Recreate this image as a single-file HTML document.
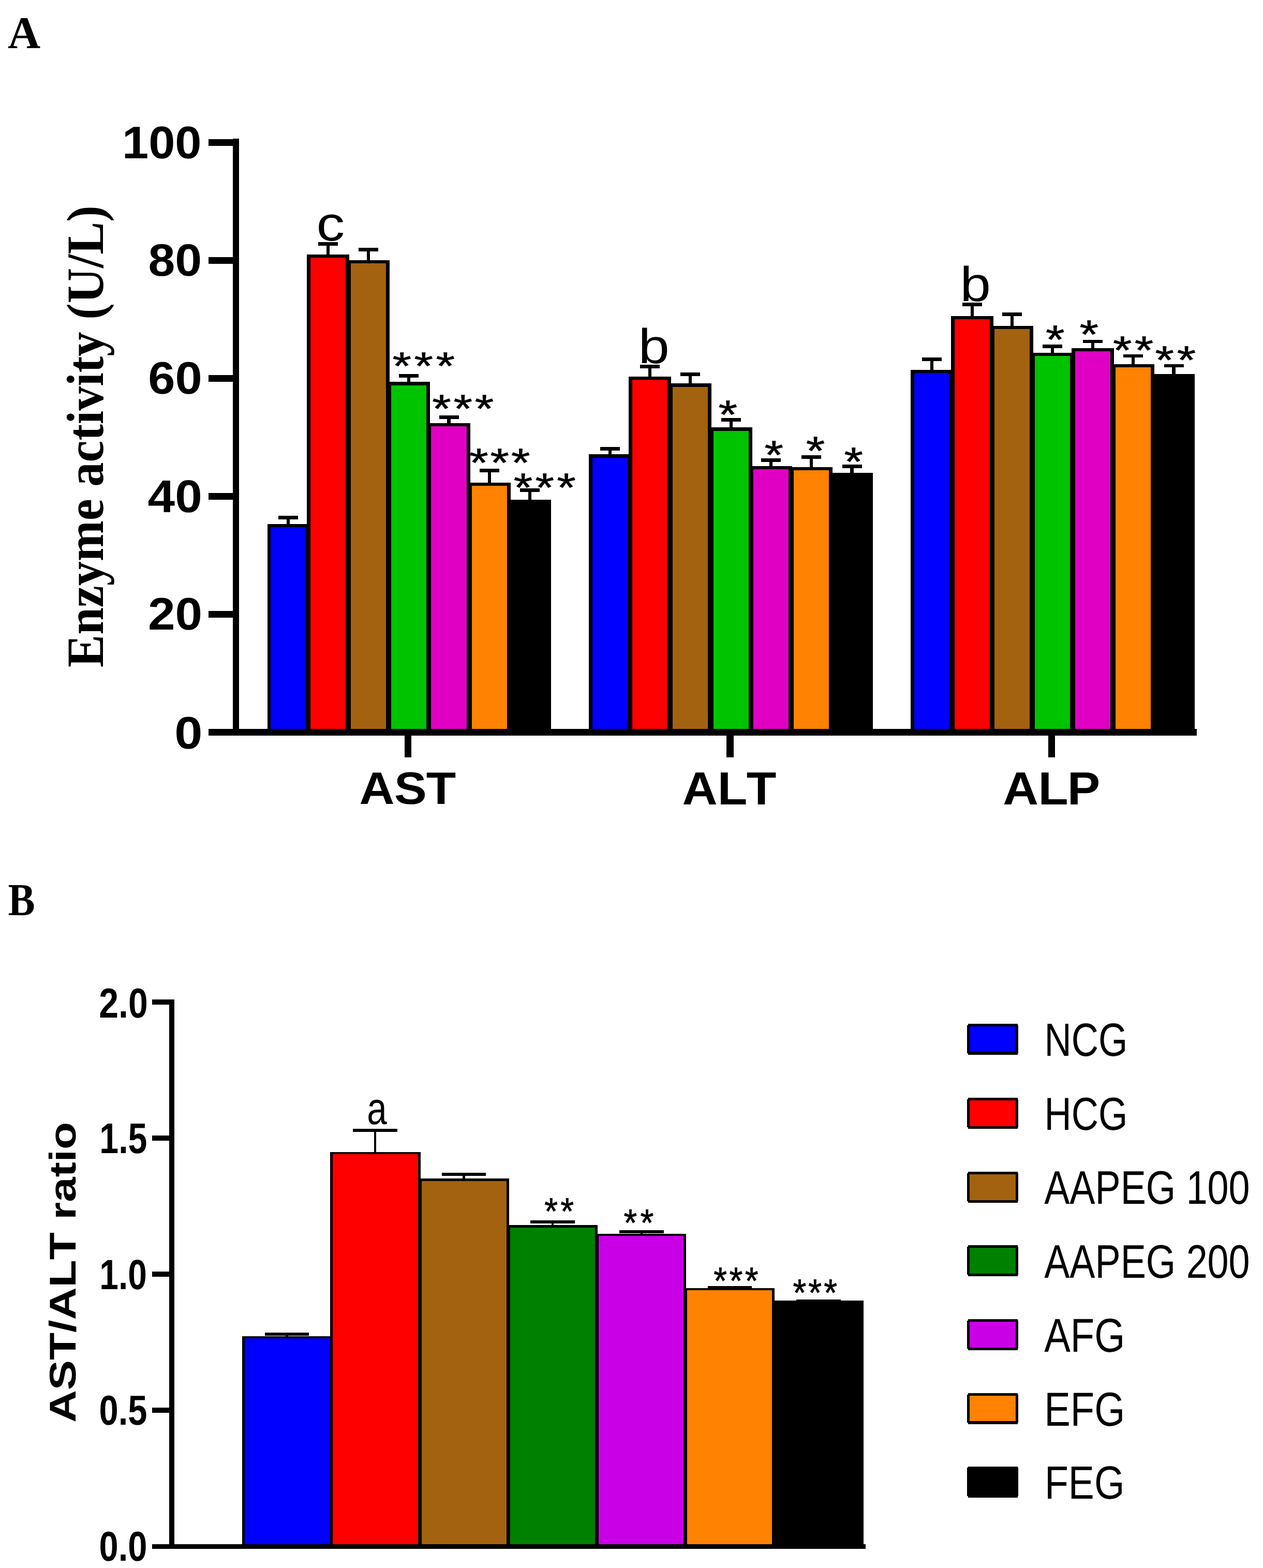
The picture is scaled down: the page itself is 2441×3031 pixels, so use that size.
<!DOCTYPE html>
<html><head><meta charset="utf-8"><title>Enzyme activity chart</title>
<style>html,body{margin:0;padding:0;background:#fff;}svg{display:block;}text{text-rendering:geometricPrecision;}</style></head>
<body>
<svg width="2441" height="3031" viewBox="0 0 2441 3031" shape-rendering="crispEdges">
<rect width="2441" height="3031" fill="#fff"/>
<rect x="449.50" y="268.00" width="12.00" height="1154.00" fill="#000"/>
<rect x="403.00" y="269.00" width="58.50" height="13.00" fill="#000"/>
<rect x="403.00" y="497.00" width="58.50" height="13.00" fill="#000"/>
<rect x="403.00" y="725.00" width="58.50" height="13.00" fill="#000"/>
<rect x="403.00" y="953.00" width="58.50" height="13.00" fill="#000"/>
<rect x="403.00" y="1181.00" width="58.50" height="13.00" fill="#000"/>
<rect x="403.00" y="1409.25" width="1910.00" height="12.75" fill="#000"/>
<rect x="782.00" y="1422.00" width="13.00" height="42.00" fill="#000"/>
<rect x="1404.00" y="1422.00" width="14.00" height="42.00" fill="#000"/>
<rect x="2026.00" y="1422.00" width="13.00" height="42.00" fill="#000"/>
<rect x="538.00" y="997.00" width="38.00" height="6.75" fill="#000"/>
<rect x="553.75" y="997.00" width="6.50" height="16.50" fill="#000"/>
<rect x="516.50" y="1012.50" width="81.00" height="397.50" fill="#000"/>
<rect x="614.88" y="468.00" width="38.00" height="6.75" fill="#000"/>
<rect x="630.62" y="468.00" width="6.50" height="25.00" fill="#000"/>
<rect x="593.25" y="492.00" width="81.25" height="918.00" fill="#000"/>
<rect x="692.88" y="479.00" width="38.00" height="6.75" fill="#000"/>
<rect x="708.62" y="479.00" width="6.50" height="25.00" fill="#000"/>
<rect x="671.25" y="503.00" width="81.25" height="907.00" fill="#000"/>
<rect x="770.88" y="723.25" width="38.00" height="6.75" fill="#000"/>
<rect x="786.62" y="723.25" width="6.50" height="16.00" fill="#000"/>
<rect x="749.25" y="738.25" width="81.25" height="671.75" fill="#000"/>
<rect x="848.62" y="803.00" width="38.00" height="6.75" fill="#000"/>
<rect x="864.38" y="803.00" width="6.50" height="15.50" fill="#000"/>
<rect x="826.50" y="817.50" width="82.25" height="592.50" fill="#000"/>
<rect x="927.00" y="906.25" width="38.00" height="6.75" fill="#000"/>
<rect x="942.75" y="906.25" width="6.50" height="27.25" fill="#000"/>
<rect x="905.25" y="932.50" width="81.50" height="477.50" fill="#000"/>
<rect x="1005.00" y="944.00" width="38.00" height="6.75" fill="#000"/>
<rect x="1020.75" y="944.00" width="6.50" height="23.25" fill="#000"/>
<rect x="983.25" y="966.25" width="81.50" height="443.75" fill="#000"/>
<rect x="1160.00" y="864.25" width="38.00" height="6.75" fill="#000"/>
<rect x="1175.75" y="864.25" width="6.50" height="15.00" fill="#000"/>
<rect x="1138.25" y="878.25" width="81.50" height="531.75" fill="#000"/>
<rect x="1237.00" y="705.00" width="38.00" height="6.75" fill="#000"/>
<rect x="1252.75" y="705.00" width="6.50" height="23.50" fill="#000"/>
<rect x="1215.25" y="727.50" width="81.50" height="682.50" fill="#000"/>
<rect x="1315.00" y="720.00" width="38.00" height="6.75" fill="#000"/>
<rect x="1330.75" y="720.00" width="6.50" height="22.25" fill="#000"/>
<rect x="1293.25" y="741.25" width="81.50" height="668.75" fill="#000"/>
<rect x="1394.00" y="808.00" width="38.00" height="6.75" fill="#000"/>
<rect x="1409.75" y="808.00" width="6.50" height="19.25" fill="#000"/>
<rect x="1372.25" y="826.25" width="81.50" height="583.75" fill="#000"/>
<rect x="1471.12" y="886.00" width="38.00" height="6.75" fill="#000"/>
<rect x="1486.88" y="886.00" width="6.50" height="15.50" fill="#000"/>
<rect x="1449.50" y="900.50" width="81.25" height="509.50" fill="#000"/>
<rect x="1549.00" y="880.00" width="38.00" height="6.75" fill="#000"/>
<rect x="1564.75" y="880.00" width="6.50" height="23.50" fill="#000"/>
<rect x="1527.25" y="902.50" width="81.50" height="507.50" fill="#000"/>
<rect x="1627.50" y="898.25" width="38.00" height="6.75" fill="#000"/>
<rect x="1643.25" y="898.25" width="6.50" height="16.75" fill="#000"/>
<rect x="1605.75" y="914.00" width="81.50" height="496.00" fill="#000"/>
<rect x="1782.12" y="691.25" width="38.00" height="6.75" fill="#000"/>
<rect x="1797.88" y="691.25" width="6.50" height="24.75" fill="#000"/>
<rect x="1760.25" y="715.00" width="81.75" height="695.00" fill="#000"/>
<rect x="1860.00" y="585.00" width="38.00" height="6.75" fill="#000"/>
<rect x="1875.75" y="585.00" width="6.50" height="26.50" fill="#000"/>
<rect x="1838.25" y="610.50" width="81.50" height="799.50" fill="#000"/>
<rect x="1937.12" y="604.00" width="38.00" height="6.75" fill="#000"/>
<rect x="1952.88" y="604.00" width="6.50" height="26.50" fill="#000"/>
<rect x="1915.50" y="629.50" width="81.25" height="780.50" fill="#000"/>
<rect x="2015.12" y="666.00" width="38.00" height="6.75" fill="#000"/>
<rect x="2030.88" y="666.00" width="6.50" height="16.50" fill="#000"/>
<rect x="1993.50" y="681.50" width="81.25" height="728.50" fill="#000"/>
<rect x="2093.00" y="656.50" width="38.00" height="6.75" fill="#000"/>
<rect x="2108.75" y="656.50" width="6.50" height="17.00" fill="#000"/>
<rect x="2071.25" y="672.50" width="81.50" height="737.50" fill="#000"/>
<rect x="2171.00" y="684.50" width="38.00" height="6.75" fill="#000"/>
<rect x="2186.75" y="684.50" width="6.50" height="20.00" fill="#000"/>
<rect x="2149.25" y="703.50" width="81.50" height="706.50" fill="#000"/>
<rect x="2249.50" y="703.50" width="38.00" height="6.75" fill="#000"/>
<rect x="2265.25" y="703.50" width="6.50" height="20.75" fill="#000"/>
<rect x="2227.75" y="723.25" width="81.50" height="686.75" fill="#000"/>
<rect x="523.25" y="1018.75" width="67.50" height="390.50" fill="#0000ff"/>
<rect x="600.00" y="498.25" width="67.75" height="911.00" fill="#ff0000"/>
<rect x="678.00" y="509.25" width="67.75" height="900.00" fill="#a3620f"/>
<rect x="756.00" y="744.50" width="67.75" height="664.75" fill="#00c300"/>
<rect x="833.25" y="823.75" width="68.75" height="585.50" fill="#e000c4"/>
<rect x="912.00" y="938.75" width="68.00" height="470.50" fill="#ff8200"/>
<rect x="1145.00" y="884.50" width="68.00" height="524.75" fill="#0000ff"/>
<rect x="1222.00" y="733.75" width="68.00" height="675.50" fill="#ff0000"/>
<rect x="1300.00" y="747.50" width="68.00" height="661.75" fill="#a3620f"/>
<rect x="1379.00" y="832.50" width="68.00" height="576.75" fill="#00c300"/>
<rect x="1456.25" y="906.75" width="67.75" height="502.50" fill="#e000c4"/>
<rect x="1534.00" y="908.75" width="68.00" height="500.50" fill="#ff8200"/>
<rect x="1767.00" y="721.25" width="68.25" height="688.00" fill="#0000ff"/>
<rect x="1845.00" y="616.75" width="68.00" height="792.50" fill="#ff0000"/>
<rect x="1922.25" y="635.75" width="67.75" height="773.50" fill="#a3620f"/>
<rect x="2000.25" y="687.75" width="67.75" height="721.50" fill="#00c300"/>
<rect x="2078.00" y="678.75" width="68.00" height="730.50" fill="#e000c4"/>
<rect x="2156.00" y="709.75" width="68.00" height="699.50" fill="#ff8200"/>
<rect x="327.25" y="1933.00" width="9.25" height="1060.75" fill="#000"/>
<rect x="293.75" y="1932.25" width="42.75" height="9.50" fill="#000"/>
<rect x="293.75" y="2195.25" width="42.75" height="9.50" fill="#000"/>
<rect x="293.75" y="2458.25" width="42.75" height="9.50" fill="#000"/>
<rect x="293.75" y="2721.25" width="42.75" height="9.50" fill="#000"/>
<rect x="293.75" y="2984.50" width="1378.95" height="9.25" fill="#000"/>
<rect x="512.00" y="2576.00" width="85.00" height="5.50" fill="#000"/>
<rect x="552.10" y="2576.00" width="4.80" height="7.50" fill="#000"/>
<rect x="467.50" y="2582.50" width="175.00" height="402.50" fill="#000"/>
<rect x="682.00" y="2182.00" width="86.00" height="5.50" fill="#000"/>
<rect x="722.60" y="2182.00" width="4.80" height="45.50" fill="#000"/>
<rect x="638.00" y="2226.50" width="174.50" height="758.50" fill="#000"/>
<rect x="854.00" y="2267.00" width="85.00" height="5.50" fill="#000"/>
<rect x="894.10" y="2267.00" width="4.80" height="12.00" fill="#000"/>
<rect x="810.00" y="2278.00" width="173.75" height="707.00" fill="#000"/>
<rect x="1025.00" y="2359.00" width="86.00" height="5.50" fill="#000"/>
<rect x="1065.60" y="2359.00" width="4.80" height="10.25" fill="#000"/>
<rect x="980.75" y="2368.25" width="174.25" height="616.75" fill="#000"/>
<rect x="1197.00" y="2378.30" width="86.00" height="5.50" fill="#000"/>
<rect x="1237.60" y="2378.30" width="4.80" height="7.20" fill="#000"/>
<rect x="1152.20" y="2384.50" width="174.20" height="600.50" fill="#000"/>
<rect x="1368.00" y="2486.00" width="85.00" height="5.50" fill="#000"/>
<rect x="1408.10" y="2486.00" width="4.80" height="4.70" fill="#000"/>
<rect x="1323.00" y="2489.70" width="174.00" height="495.30" fill="#000"/>
<rect x="1539.00" y="2511.60" width="86.00" height="5.50" fill="#000"/>
<rect x="1579.60" y="2511.60" width="4.80" height="3.40" fill="#000"/>
<rect x="1494.50" y="2514.00" width="174.50" height="471.00" fill="#000"/>
<rect x="472.50" y="2587.25" width="165.00" height="397.25" fill="#0000ff"/>
<rect x="643.00" y="2231.25" width="164.50" height="753.25" fill="#ff0000"/>
<rect x="815.00" y="2282.75" width="163.75" height="701.75" fill="#a3620f"/>
<rect x="985.75" y="2373.00" width="164.25" height="611.50" fill="#008000"/>
<rect x="1157.20" y="2389.25" width="164.20" height="595.25" fill="#c900e6"/>
<rect x="1328.00" y="2494.45" width="164.00" height="490.05" fill="#ff8200"/>
<rect x="1869.00" y="1981.50" width="98.90" height="54.70" fill="#000"/>
<rect x="1871.00" y="1979.00" width="95.60" height="59.60" fill="#000"/>
<rect x="1873.90" y="1984.20" width="89.20" height="49.20" fill="#0000ff"/>
<rect x="1869.00" y="2124.70" width="98.90" height="54.70" fill="#000"/>
<rect x="1871.00" y="2122.20" width="95.60" height="59.60" fill="#000"/>
<rect x="1873.90" y="2127.40" width="89.20" height="49.20" fill="#ff0000"/>
<rect x="1869.00" y="2267.70" width="98.90" height="54.70" fill="#000"/>
<rect x="1871.00" y="2265.20" width="95.60" height="59.60" fill="#000"/>
<rect x="1873.90" y="2270.40" width="89.20" height="49.20" fill="#a3620f"/>
<rect x="1869.00" y="2409.70" width="98.90" height="54.70" fill="#000"/>
<rect x="1871.00" y="2407.20" width="95.60" height="59.60" fill="#000"/>
<rect x="1873.90" y="2412.40" width="89.20" height="49.20" fill="#008000"/>
<rect x="1869.00" y="2552.70" width="98.90" height="54.70" fill="#000"/>
<rect x="1871.00" y="2550.20" width="95.60" height="59.60" fill="#000"/>
<rect x="1873.90" y="2555.40" width="89.20" height="49.20" fill="#c900e6"/>
<rect x="1869.00" y="2695.50" width="98.90" height="54.70" fill="#000"/>
<rect x="1871.00" y="2693.00" width="95.60" height="59.60" fill="#000"/>
<rect x="1873.90" y="2698.20" width="89.20" height="49.20" fill="#ff8200"/>
<rect x="1869.00" y="2837.40" width="98.90" height="54.70" fill="#000"/>
<rect x="1871.00" y="2834.90" width="95.60" height="59.60" fill="#000"/>
<text transform="matrix(0.8743,0,0,0.8788,15.03,93.00)" font-family='"Liberation Serif", "Times New Roman", serif' font-weight="bold" font-size="100" style="font-kerning:none" xml:space="preserve">A</text>
<text transform="matrix(0.9204,0,0,0.8831,235.98,305.62)" font-family='"Liberation Sans", Arial, sans-serif' font-weight="bold" font-size="100" style="font-kerning:none" xml:space="preserve">100</text>
<text transform="matrix(0.9327,0,0,0.8768,286.45,533.37)" font-family='"Liberation Sans", Arial, sans-serif' font-weight="bold" font-size="100" style="font-kerning:none" xml:space="preserve">80</text>
<text transform="matrix(0.9393,0,0,0.8803,286.24,761.12)" font-family='"Liberation Sans", Arial, sans-serif' font-weight="bold" font-size="100" style="font-kerning:none" xml:space="preserve">60</text>
<text transform="matrix(0.9452,0,0,0.8873,285.61,989.61)" font-family='"Liberation Sans", Arial, sans-serif' font-weight="bold" font-size="100" style="font-kerning:none" xml:space="preserve">40</text>
<text transform="matrix(0.9447,0,0,0.8803,285.92,1217.12)" font-family='"Liberation Sans", Arial, sans-serif' font-weight="bold" font-size="100" style="font-kerning:none" xml:space="preserve">20</text>
<text transform="matrix(0.9734,0,0,0.8803,337.36,1446.62)" font-family='"Liberation Sans", Arial, sans-serif' font-weight="bold" font-size="100" style="font-kerning:none" xml:space="preserve">0</text>
<text transform="matrix(0,-0.9454,1.0139,0,198.71,1289.89)" font-family='"Liberation Serif", "Times New Roman", serif' font-weight="bold" font-size="100" style="font-kerning:none" xml:space="preserve">Enzyme activity (U/L)</text>
<text transform="matrix(1.0930,0,0,0.9409,611.38,464.56)" font-family='"Liberation Sans", Arial, sans-serif' font-weight="normal" font-size="100" style="font-kerning:none" xml:space="preserve">c</text>
<text transform="matrix(1.0795,0,0,0.9452,1233.69,702.00)" font-family='"Liberation Sans", Arial, sans-serif' font-weight="normal" font-size="100" style="font-kerning:none" xml:space="preserve">b</text>
<text transform="matrix(1.0682,0,0,0.9452,1855.52,582.00)" font-family='"Liberation Sans", Arial, sans-serif' font-weight="normal" font-size="100" style="font-kerning:none" xml:space="preserve">b</text>
<text transform="matrix(0.7823,0,0,0.8846,15.44,1768.75)" font-family='"Liberation Serif", "Times New Roman", serif' font-weight="bold" font-size="100" style="font-kerning:none" xml:space="preserve">B</text>
<text transform="matrix(0.6799,0,0,0.8099,191.21,1966.69)" font-family='"Liberation Sans", Arial, sans-serif' font-weight="bold" font-size="100" style="font-kerning:none" xml:space="preserve">2.0</text>
<text transform="matrix(0.6635,0,0,0.8286,192.27,2229.17)" font-family='"Liberation Sans", Arial, sans-serif' font-weight="bold" font-size="100" style="font-kerning:none" xml:space="preserve">1.5</text>
<text transform="matrix(0.6589,0,0,0.8169,192.30,2491.68)" font-family='"Liberation Sans", Arial, sans-serif' font-weight="bold" font-size="100" style="font-kerning:none" xml:space="preserve">1.0</text>
<text transform="matrix(0.6686,0,0,0.8099,191.58,2753.69)" font-family='"Liberation Sans", Arial, sans-serif' font-weight="bold" font-size="100" style="font-kerning:none" xml:space="preserve">0.5</text>
<text transform="matrix(0.6679,0,0,0.8099,191.58,3016.69)" font-family='"Liberation Sans", Arial, sans-serif' font-weight="bold" font-size="100" style="font-kerning:none" xml:space="preserve">0.0</text>
<text transform="matrix(0,-0.8720,0.7196,0,146.28,2750.12)" font-family='"Liberation Sans", Arial, sans-serif' font-weight="bold" font-size="100" style="font-kerning:none" xml:space="preserve">AST/ALT ratio</text>
<text transform="matrix(0.6923,0,0,0.8773,709.23,2173.12)" font-family='"Liberation Sans", Arial, sans-serif' font-weight="normal" font-size="100" style="font-kerning:none" xml:space="preserve">a</text>
<text transform="matrix(0.7237,0,0,0.9014,2018.51,2041.20)" font-family='"Liberation Sans", Arial, sans-serif' font-weight="normal" font-size="100" style="font-kerning:none" xml:space="preserve">NCG</text>
<text transform="matrix(0.7237,0,0,0.8944,2018.51,2184.11)" font-family='"Liberation Sans", Arial, sans-serif' font-weight="normal" font-size="100" style="font-kerning:none" xml:space="preserve">HCG</text>
<text transform="matrix(0.7370,0,0,0.9113,2018.20,2326.59)" font-family='"Liberation Sans", Arial, sans-serif' font-weight="normal" font-size="100" style="font-kerning:none" xml:space="preserve">AAPEG 100</text>
<text transform="matrix(0.7370,0,0,0.9113,2018.20,2469.99)" font-family='"Liberation Sans", Arial, sans-serif' font-weight="normal" font-size="100" style="font-kerning:none" xml:space="preserve">AAPEG 200</text>
<text transform="matrix(0.7586,0,0,0.9211,2018.20,2612.98)" font-family='"Liberation Sans", Arial, sans-serif' font-weight="normal" font-size="100" style="font-kerning:none" xml:space="preserve">AFG</text>
<text transform="matrix(0.7584,0,0,0.9225,2018.23,2756.08)" font-family='"Liberation Sans", Arial, sans-serif' font-weight="normal" font-size="100" style="font-kerning:none" xml:space="preserve">EFG</text>
<text transform="matrix(0.7521,0,0,0.9014,2018.88,2897.10)" font-family='"Liberation Sans", Arial, sans-serif' font-weight="normal" font-size="100" style="font-kerning:none" xml:space="preserve">FEG</text>
<text transform="matrix(0.9405,0,0,0.8803,0,1554.12)" font-family='"Liberation Sans", Arial, sans-serif' font-weight="bold" font-size="100" style="font-kerning:none" xml:space="preserve" x="738.48 810.33 875.96">AST</text>
<text transform="matrix(0.9436,0,0,0.8986,0,1555.00)" font-family='"Liberation Sans", Arial, sans-serif' font-weight="bold" font-size="100" style="font-kerning:none" xml:space="preserve" x="1397.35 1469.73 1529.09">ALT</text>
<text transform="matrix(0.9521,0,0,0.8986,0,1555.00)" font-family='"Liberation Sans", Arial, sans-serif' font-weight="bold" font-size="100" style="font-kerning:none" xml:space="preserve" x="2035.69 2107.46 2166.66">ALP</text>
<text transform="matrix(0.9371,0,0,0.7486,0,733.30)" font-family='"Liberation Sans", Arial, sans-serif' font-weight="normal" font-size="100" style="font-kerning:none" xml:space="preserve" x="809.40 854.17 898.93" stroke="#000" stroke-width="0.96" stroke-linejoin="miter">***</text>
<text transform="matrix(0.9371,0,0,0.7629,0,816.04)" font-family='"Liberation Sans", Arial, sans-serif' font-weight="normal" font-size="100" style="font-kerning:none" xml:space="preserve" x="891.25 935.37 979.49" stroke="#000" stroke-width="0.95" stroke-linejoin="miter">***</text>
<text transform="matrix(0.9371,0,0,0.7771,0,921.02)" font-family='"Liberation Sans", Arial, sans-serif' font-weight="normal" font-size="100" style="font-kerning:none" xml:space="preserve" x="968.13 1011.16 1054.19" stroke="#000" stroke-width="0.94" stroke-linejoin="miter">***</text>
<text transform="matrix(0.9371,0,0,0.7771,0,969.02)" font-family='"Liberation Sans", Arial, sans-serif' font-weight="normal" font-size="100" style="font-kerning:none" xml:space="preserve" x="1059.36 1103.86 1148.36" stroke="#000" stroke-width="0.94" stroke-linejoin="miter">***</text>
<text transform="matrix(0.9371,0,0,0.7771,0,828.02)" font-family='"Liberation Sans", Arial, sans-serif' font-weight="normal" font-size="100" style="font-kerning:none" xml:space="preserve" x="1481.66" stroke="#000" stroke-width="0.94" stroke-linejoin="miter">*</text>
<text transform="matrix(0.9371,0,0,0.7771,0,906.02)" font-family='"Liberation Sans", Arial, sans-serif' font-weight="normal" font-size="100" style="font-kerning:none" xml:space="preserve" x="1576.63" stroke="#000" stroke-width="0.94" stroke-linejoin="miter">*</text>
<text transform="matrix(0.9371,0,0,0.7771,0,898.02)" font-family='"Liberation Sans", Arial, sans-serif' font-weight="normal" font-size="100" style="font-kerning:none" xml:space="preserve" x="1662.26" stroke="#000" stroke-width="0.94" stroke-linejoin="miter">*</text>
<text transform="matrix(0.9371,0,0,0.7771,0,919.02)" font-family='"Liberation Sans", Arial, sans-serif' font-weight="normal" font-size="100" style="font-kerning:none" xml:space="preserve" x="1740.96" stroke="#000" stroke-width="0.94" stroke-linejoin="miter">*</text>
<text transform="matrix(0.9371,0,0,0.7771,0,682.52)" font-family='"Liberation Sans", Arial, sans-serif' font-weight="normal" font-size="100" style="font-kerning:none" xml:space="preserve" x="2156.58" stroke="#000" stroke-width="0.94" stroke-linejoin="miter">*</text>
<text transform="matrix(0.9371,0,0,0.7771,0,672.52)" font-family='"Liberation Sans", Arial, sans-serif' font-weight="normal" font-size="100" style="font-kerning:none" xml:space="preserve" x="2226.48" stroke="#000" stroke-width="0.94" stroke-linejoin="miter">*</text>
<text transform="matrix(0.9371,0,0,0.7629,0,702.54)" font-family='"Liberation Sans", Arial, sans-serif' font-weight="normal" font-size="100" style="font-kerning:none" xml:space="preserve" x="2295.30 2340.01" stroke="#000" stroke-width="0.95" stroke-linejoin="miter">**</text>
<text transform="matrix(0.9371,0,0,0.7629,0,721.54)" font-family='"Liberation Sans", Arial, sans-serif' font-weight="normal" font-size="100" style="font-kerning:none" xml:space="preserve" x="2382.27 2427.51" stroke="#000" stroke-width="0.95" stroke-linejoin="miter">**</text>
<text transform="matrix(0.6629,0,0,0.7200,0,2366.08)" font-family='"Liberation Sans", Arial, sans-serif' font-weight="normal" font-size="100" style="font-kerning:none" xml:space="preserve" x="1587.18 1633.95" stroke="#000" stroke-width="1.16" stroke-linejoin="miter">**</text>
<text transform="matrix(0.6629,0,0,0.7400,0,2389.26)" font-family='"Liberation Sans", Arial, sans-serif' font-weight="normal" font-size="100" style="font-kerning:none" xml:space="preserve" x="1818.45 1866.73" stroke="#000" stroke-width="1.14" stroke-linejoin="miter">**</text>
<text transform="matrix(0.6629,0,0,0.7343,0,2501.07)" font-family='"Liberation Sans", Arial, sans-serif' font-weight="normal" font-size="100" style="font-kerning:none" xml:space="preserve" x="2080.50 2126.21 2171.92" stroke="#000" stroke-width="1.15" stroke-linejoin="miter">***</text>
<text transform="matrix(0.6629,0,0,0.7343,0,2524.07)" font-family='"Liberation Sans", Arial, sans-serif' font-weight="normal" font-size="100" style="font-kerning:none" xml:space="preserve" x="2311.70 2356.77 2401.84" stroke="#000" stroke-width="1.15" stroke-linejoin="miter">***</text>
</svg>
</body></html>
